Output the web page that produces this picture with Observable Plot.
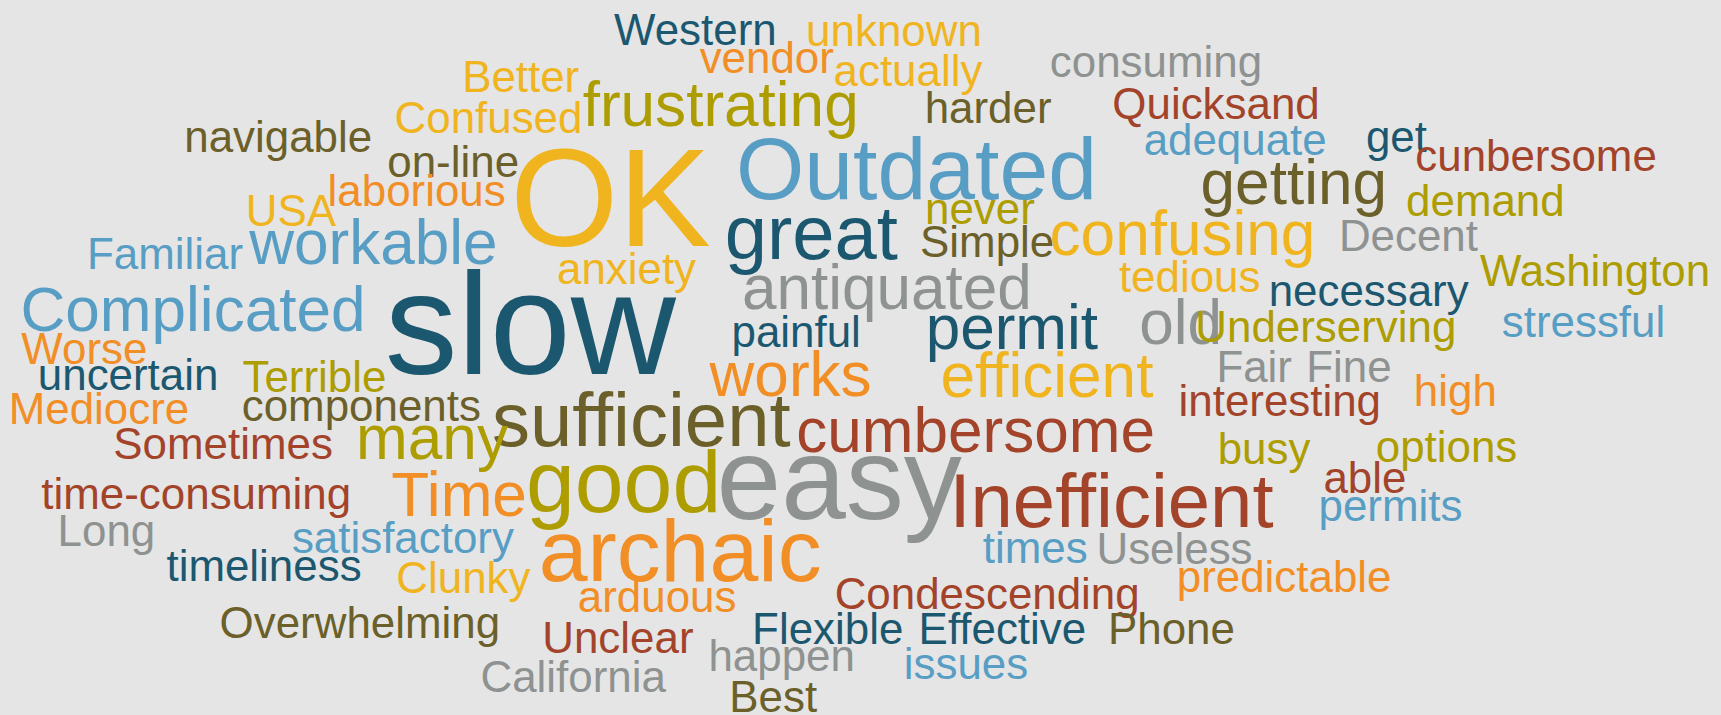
<!DOCTYPE html>
<html>
<head>
<meta charset="utf-8">
<script src="https://cdn.jsdelivr.net/npm/d3@7"></script>
<script src="https://cdn.jsdelivr.net/npm/@observablehq/plot@0.6"></script>
<style>
  html, body { margin: 0; padding: 0; background: #e5e5e5; }
  #chart svg { display: block; }
</style>
</head>
<body>
<div id="chart"></div>
<script>
// Word-cloud data: word, frequency, layout position (cloud units) and colour group
const words = ["Western","unknown","vendor","actually","consuming","Better","Confused","frustrating","harder","Quicksand",
  "navigable","on-line","OK","Outdated","adequate","get","cunbersome","getting","demand","laborious",
  "USA","never","great","Simple","confusing","Decent","Familiar","workable","anxiety","antiquated",
  "tedious","necessary","Washington","Complicated","slow","painful","permit","old","Underserving","stressful",
  "Worse","uncertain","Terrible","works","efficient","Fair","Fine","high","Mediocre","components",
  "sufficient","interesting","cumbersome","many","Sometimes","busy","options","good","easy","Inefficient",
  "Time","time-consuming","able","permits","Long","satisfactory","archaic","times","Useless","timeliness",
  "Clunky","predictable","arduous","Condescending","Overwhelming","Unclear","Flexible","Effective","Phone","happen",
  "issues","California","Best"];
const counts = [1,1,1,1,1,1,1,2,1,1,
  1,1,10,4,1,1,1,2,1,1,
  1,1,3,1,2,1,1,2,1,2,
  1,1,1,2,11,1,2,2,1,1,
  1,1,1,2,2,1,1,1,1,1,
  3,1,2,2,1,1,1,4,7,3,
  2,1,1,1,1,1,4,1,1,1,
  1,1,1,1,1,1,1,1,1,1,
  1,1,1];
const cloudX = [559,734,637,759,956,420.6,359,530.4,842,1013,
  167.4,352.4,464.4,670,1041.5,1244,1289,1093.4,1280.6,298,
  223.4,842.3,659.8,837.8,955.8,1219.4,78.8,226.6,507,675.5,
  1019,1155.4,1348,18.2,350,666,842.9,1037.4,1088.6,1367.8,
  19,34,220.5,646,856.5,1107.8,1189.7,1287.7,7.5,219.8,
  447.7,1073.3,725,324,102.8,1109,1253,478.7,652.4,864.6,
  356,37.2,1205.3,1200.8,52,265.5,490.3,895,998.5,151.2,
  360.6,1071.7,526,760,199.6,493.6,684.8,836.5,1009,645,
  823,437.3,664];
const cloudY = [40.4,41,66.2,77.4,70,83.5,120.5,113.9,111.8,107.7,
  138,161,223.5,180.7,141,138,155,185,196,186.8,
  205,203.5,235,233.8,232,227.8,244.4,239.9,258,280.9,
  265.7,277.9,259.6,300.6,340,315.8,317.3,312.8,311.3,306.7,
  331,354.7,356.8,359.8,361.4,347.7,347.7,369,385.6,382.6,
  405.4,378,411.5,417.5,417.5,422,420,466,472,479.8,
  469,463,448,473.7,497,502.6,528.4,512.3,513.2,528.4,
  539.6,539,556.6,554.2,580,593.7,586,586,586,610.4,
  618,630,647.7];
const groups = ["teal","gold","orange","gold","gray","gold","gold","olive","darkolive","rust",
  "darkolive","darkolive","gold","lightblue","lightblue","teal","rust","darkolive","olive","orange",
  "gold","olive","teal","darkolive","gold","gray","lightblue","lightblue","gold","gray",
  "gold","teal","olive","lightblue","teal","teal","teal","gray","olive","lightblue",
  "orange","teal","olive","orange","gold","gray","gray","orange","orange","darkolive",
  "darkolive","rust","rust","olive","rust","olive","olive","olive","gray","rust",
  "orange","rust","rust","lightblue","gray","lightblue","orange","lightblue","gray","teal",
  "gold","orange","orange","rust","darkolive","rust","teal","teal","darkolive","gray",
  "lightblue","gray","darkolive"];
const groupNames = ["teal","lightblue","gold","orange","olive","darkolive","rust","gray"];
const groupColors = ["#1b5870","#589ec4","#f0b41f","#f28e26","#ad9d00","#6b6029","#a3432a","#8e9291"];

const W = 1721, H = 715;
const cloudW = 1568, cloudH = 651;
const k = W / cloudW;
const size = d3.scaleSqrt().domain([0, 1]).range([0, 40 * k]);

const data = words.map((w, i) => ({word: w, count: counts[i], x: cloudX[i], y: cloudY[i], group: groups[i]}));

const chart = Plot.plot({
  width: W,
  height: H,
  margin: 0,
  style: {background: "#e5e5e5", fontFamily: "'Liberation Sans', Arial, Helvetica, sans-serif"},
  x: {domain: [0, cloudW], range: [0, W], axis: null},
  y: {domain: [0, cloudH], range: [0, H], axis: null},
  color: {domain: groupNames, range: groupColors},
  marks: [
    Plot.text(data, {
      x: "x", y: "y", text: "word",
      fill: "group",
      fontSize: d => size(d.count),
      textAnchor: "start",
      lineAnchor: "bottom"
    })
  ]
});
document.getElementById("chart").appendChild(chart);
</script>
</body>
</html>
